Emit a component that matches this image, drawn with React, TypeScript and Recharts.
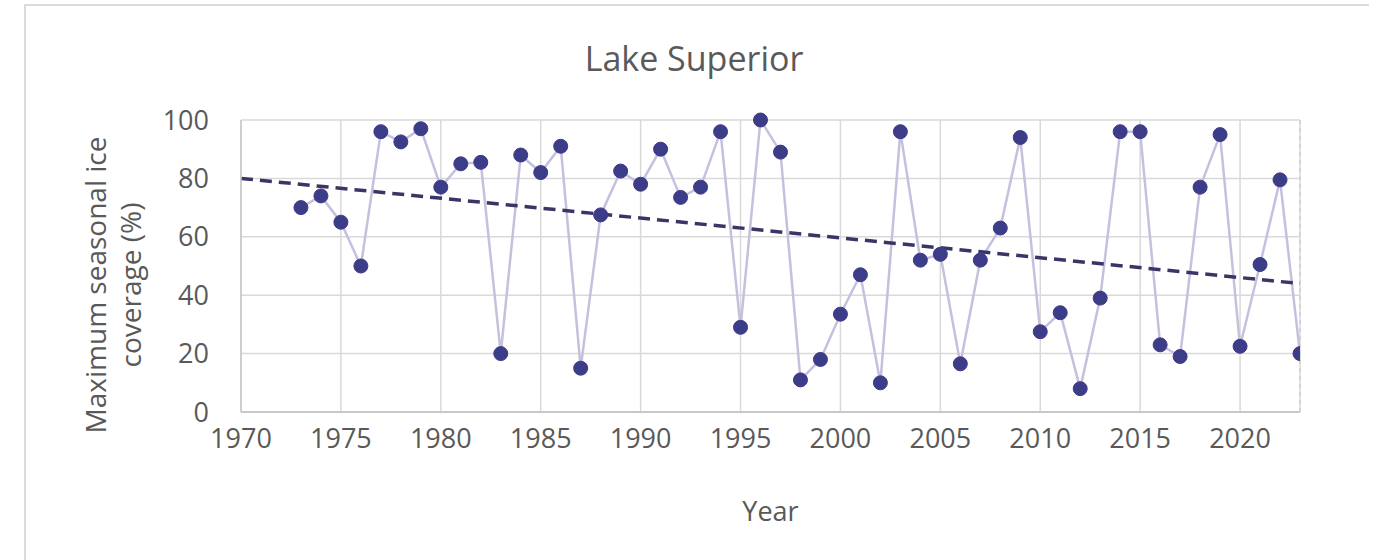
import React from "react";
import {
  ComposedChart,
  Line,
  XAxis,
  YAxis,
  CartesianGrid,
  ReferenceLine,
} from "recharts";

const years: number[] = [
  1973, 1974, 1975, 1976, 1977, 1978, 1979, 1980, 1981, 1982, 1983, 1984, 1985,
  1986, 1987, 1988, 1989, 1990, 1991, 1992, 1993, 1994, 1995, 1996, 1997, 1998,
  1999, 2000, 2001, 2002, 2003, 2004, 2005, 2006, 2007, 2008, 2009, 2010, 2011,
  2012, 2013, 2014, 2015, 2016, 2017, 2018, 2019, 2020, 2021, 2022, 2023,
];

const iceCoverage: number[] = [
  70, 74, 65, 50, 96, 92.5, 97, 77, 85, 85.5, 20, 88, 82, 91, 15, 67.5, 82.5, 78,
  90, 73.5, 77, 96, 29, 100, 89, 11, 18, 33.5, 47, 10, 96, 52, 54, 16.5, 52, 63,
  94, 27.5, 34, 8, 39, 96, 96, 23, 19, 77, 95, 22.5, 50.5, 79.5, 20,
];

const trendYears: number[] = [1970, 2023];
const trendValues: number[] = [80, 44];

const xTicks: number[] = [1970, 1975, 1980, 1985, 1990, 1995, 2000, 2005, 2010, 2015, 2020];
const yTicks: number[] = [0, 20, 40, 60, 80, 100];

const title = "Lake Superior";
const yLabelLines: string[] = ["Maximum seasonal ice", "coverage (%)"];
const xLabel = "Year";

const data = years.map((y, i) => ({ year: y, ice: iceCoverage[i] }));
const trendData = trendYears.map((y, i) => ({ year: y, trend: trendValues[i] }));

const FONT = "'Open Sans', 'Noto Sans', sans-serif";
const TEXT = "#595959";

const YLabel = () => (
  <g>
    <text
      x={95}
      y={285}
      transform="rotate(-90 95 285)"
      textAnchor="middle"
      dominantBaseline="central"
      fill={TEXT}
      fontFamily={FONT}
      fontSize={28}
    >
      {yLabelLines[0]}
    </text>
    <text
      x={130}
      y={285}
      transform="rotate(-90 130 285)"
      textAnchor="middle"
      dominantBaseline="central"
      fill={TEXT}
      fontFamily={FONT}
      fontSize={28}
    >
      {yLabelLines[1]}
    </text>
  </g>
);

const XLabel = (props: any) => {
  const vb = props.viewBox || {};
  const cx = (vb.x || 0) + (vb.width || 0) / 2;
  return (
    <text
      x={cx}
      y={510}
      textAnchor="middle"
      dominantBaseline="central"
      fill={TEXT}
      fontFamily={FONT}
      fontSize={27}
    >
      {xLabel}
    </text>
  );
};

export default function App() {
  return (
    <div
      style={{
        position: "absolute",
        left: 0,
        top: 0,
        width: 1376,
        height: 560,
        background: "#fff",
        overflow: "hidden",
      }}
    >
      <div
        style={{
          position: "absolute",
          left: 24,
          top: 4,
          width: 1343,
          height: 600,
          borderTop: "2px solid #dcdcdc",
          borderLeft: "2px solid #dcdcdc",
        }}
      />
      <div
        style={{
          position: "absolute",
          left: 394,
          width: 600,
          top: 35,
          textAlign: "center",
          fontFamily: FONT,
          fontSize: 34,
          color: TEXT,
          lineHeight: "46px",
        }}
      >
        {title}
      </div>
      <div style={{ position: "absolute", left: 0, top: 0 }}>
        <ComposedChart
          width={1376}
          height={560}
          data={data}
          margin={{ top: 120, right: 76, bottom: 108, left: 141 }}
        >
          <CartesianGrid stroke="#d9d9d9" strokeWidth={1.5} />
          <XAxis
            dataKey="year"
            type="number"
            domain={[1970, 2023]}
            ticks={xTicks}
            allowDataOverflow
            height={40}
            tickSize={0}
            tickMargin={17}
            axisLine={{ stroke: "#c8c8c8", strokeWidth: 2 }}
            tickLine={false}
            tick={{ fill: TEXT, fontFamily: FONT, fontSize: 27 }}
            label={<XLabel />}
          />
          <YAxis
            type="number"
            domain={[0, 100]}
            ticks={yTicks}
            width={100}
            tickSize={0}
            tickMargin={32}
            axisLine={{ stroke: "#c8c8c8", strokeWidth: 1.5 }}
            tickLine={false}
            tick={{ fill: TEXT, fontFamily: FONT, fontSize: 27 }}
            label={<YLabel />}
          />
          <ReferenceLine
            x={2023}
            stroke="#d0d0d0"
            strokeDasharray="4 4"
            strokeWidth={1.5}
          />
          <Line
            dataKey="ice"
            stroke="#c6c0df"
            strokeWidth={2.5}
            dot={{ r: 7, fill: "#3c3c88", stroke: "#3c3c88", strokeWidth: 1 }}
            activeDot={false}
            isAnimationActive={false}
          />
          <Line
            data={trendData}
            dataKey="trend"
            stroke="#3a3566"
            strokeWidth={3.5}
            strokeDasharray="12 7"
            dot={false}
            activeDot={false}
            isAnimationActive={false}
          />
        </ComposedChart>
      </div>
    </div>
  );
}
